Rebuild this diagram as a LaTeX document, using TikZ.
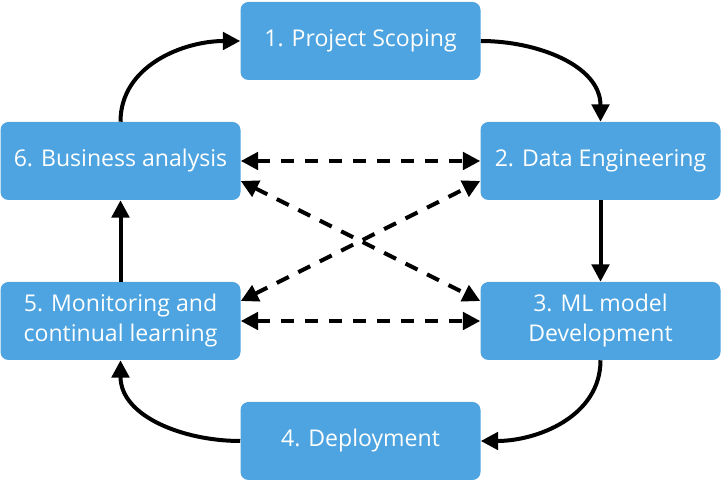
\documentclass[tikz,border=0pt]{standalone}
\usepackage{fontspec}
\setmainfont{Open Sans}
\usetikzlibrary{arrows.meta}
\definecolor{stepblue}{RGB}{77,164,224}

\begin{document}
\begin{tikzpicture}[x=0.75pt,y=0.75pt,
    phase/.style={fill=stepblue,text=white,rounded corners=6pt,minimum width=180pt,minimum height=58.5pt,inner sep=0pt,align=center,font=\fontsize{17.3}{22.5}\selectfont},
    flow/.style={line width=3pt,-{Triangle[length=13pt,width=13pt]}},
    link/.style={line width=3pt,dash pattern=on 10pt off 8pt,{Triangle[length=13pt,width=13pt]}-{Triangle[length=13pt,width=13pt]}}]
    \useasboundingbox (0,0) rectangle (721,481);
    \node[phase] (scoping) at (360.5,440) {1. Project Scoping};
    \node[phase] (data) at (600.5,320) {2. Data Engineering};
    \node[phase] (model) at (600.5,160) {3. ML model\\Development};
    \node[phase] (deploy) at (360.5,40) {4. Deployment};
    \node[phase] (monitor) at (120.5,160) {5. Monitoring and\\continual learning};
    \node[phase] (business) at (120.5,320) {6. Business analysis};
    \draw[flow] (business.north) to[out=90,in=180] (scoping.west);
    \draw[flow] (scoping.east) to[out=0,in=90] (data.north);
    \draw[flow] (data.south) -- (model.north);
    \draw[flow] (model.south) to[out=-90,in=0] (deploy.east);
    \draw[flow] (deploy.west) to[out=180,in=-90] (monitor.south);
    \draw[flow] (monitor.north) -- (business.south);
    \draw[link] (business.east) -- (data.west);
    \draw[link] (monitor.east) -- (model.west);
    \draw[link] ([yshift=-15pt]business.east) -- ([yshift=15pt]model.west);
    \draw[link] ([yshift=15pt]monitor.east) -- ([yshift=-15pt]data.west);
\end{tikzpicture}
\end{document}
